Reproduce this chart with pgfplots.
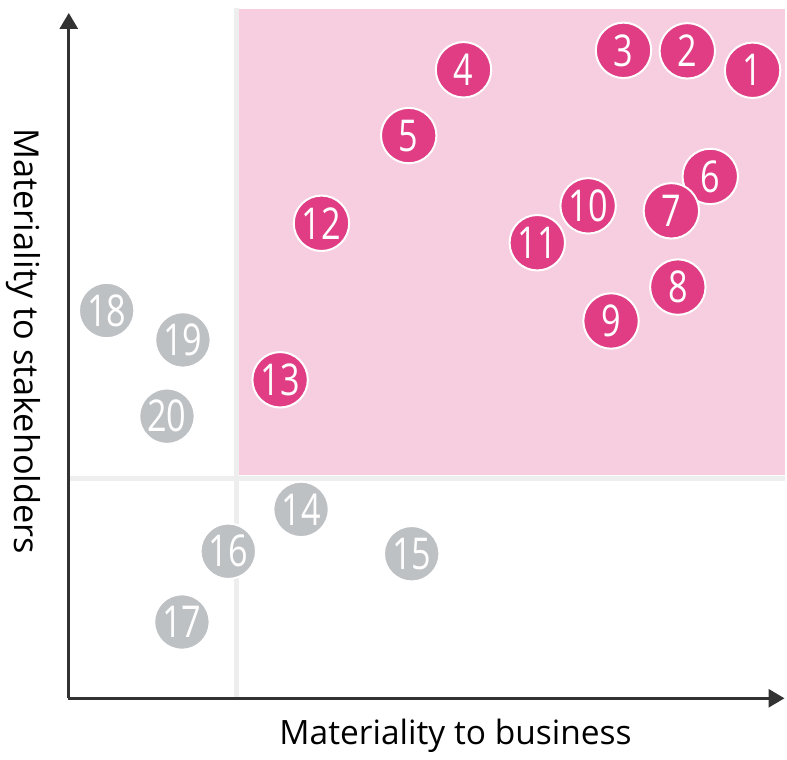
\documentclass[border=0pt]{standalone}
\usepackage{pgfplots}
\pgfplotsset{compat=1.18}
\usepackage{pgfplotstable}
\usepackage{fontspec}
\setmainfont{Open Sans}
\newfontfamily\numfont[FakeStretch=0.78]{Open Sans}
\usetikzlibrary{arrows.meta}
\definecolor{pinkdot}{RGB}{224,61,132}
\definecolor{pinkbg}{RGB}{246,206,224}
\definecolor{greydot}{RGB}{190,193,196}
\definecolor{gridline}{RGB}{238,238,238}
\definecolor{axiscol}{RGB}{50,50,50}

% issue positions, in picture pixels (y measured upward)
\pgfplotstableread{
x     y      label
755   687.5  1
689.5 707    2
625.5 707.5  3
465   688    4
410   622    5
712.5 581    6
673.5 546.5  7
680   470    8
613   436    9
590   551.5  10
539   514.5  11
322.5 534    12
281   377    13
}\pinkpts
\pgfplotstableread{
x     y      label
302   247    14
413   202.5  15
229   205    16
182.5 134    17
107   446.5  18
183.5 417    19
167.5 340.5  20
}\greypts

\begin{document}
\begin{tikzpicture}
\begin{axis}[
  x=0.5pt, y=0.5pt,
  xmin=0, xmax=787, ymin=0, ymax=758,
  hide axis, clip=false,
  every axis plot/.append style={only marks, mark=*, mark size=13.9pt,
    nodes near coords, point meta=explicit symbolic,
    nodes near coords style={anchor=center, text=white, inner sep=0pt,
      font=\numfont\fontsize{22}{22}\selectfont}},
]
  \path (axis cs:0,0) rectangle (axis cs:787,758);
  % high-materiality quadrant
  \fill[pinkbg] (axis cs:240,281) rectangle (axis cs:787,748.5);
  \draw[gridline, line width=2.5pt] (axis cs:237,58) -- (axis cs:237,750);
  \draw[gridline, line width=2.5pt] (axis cs:68,277.5) -- (axis cs:787,277.5);
  % axes
  \draw[axiscol, line width=1.5pt, -{Triangle[length=8pt,width=9pt]}]
    (axis cs:69,57.5) -- (axis cs:69,745);
  \draw[axiscol, line width=1.5pt, -{Triangle[length=8pt,width=9pt]}]
    (axis cs:68.3,57.5) -- (axis cs:787,57.5);
  \node[anchor=base, font=\fontsize{16.8}{20}\selectfont] at (axis cs:457,11)
    {Materiality to business};
  \node[anchor=base, rotate=-90, font=\fontsize{17.2}{20}\selectfont]
    at (axis cs:15,415.5) {Materiality to stakeholders};

  \addplot[mark options={fill=pinkdot, draw=white, line width=1pt}]
    table[x=x, y=y, meta=label] {\pinkpts};
  \addplot[mark options={fill=greydot, draw=white, line width=1pt}]
    table[x=x, y=y, meta=label] {\greypts};
\end{axis}
\end{tikzpicture}
\end{document}
